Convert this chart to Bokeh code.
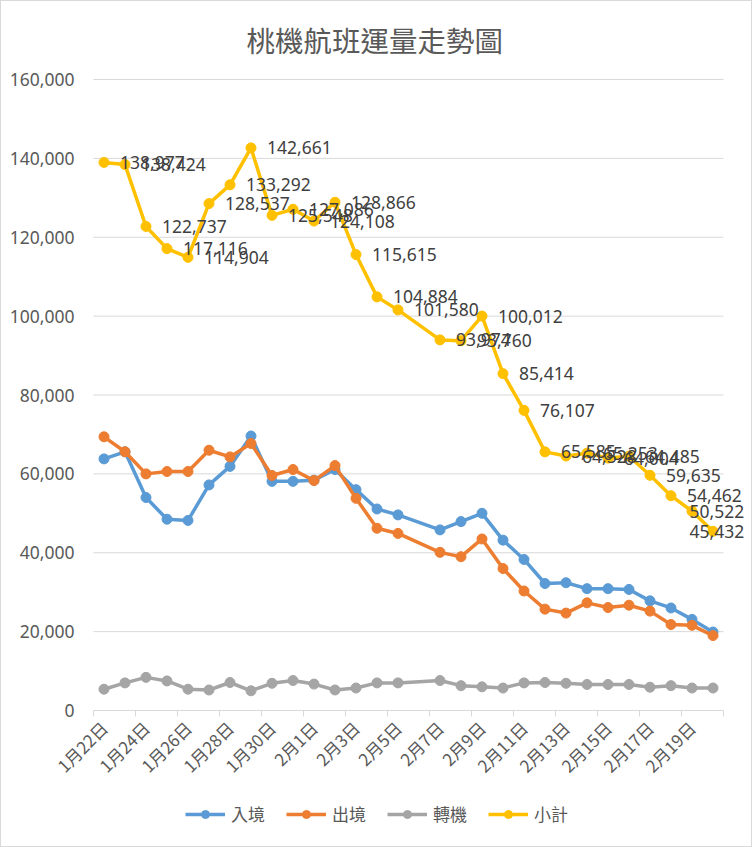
import math
from bokeh.plotting import figure
from bokeh.models import (ColumnDataSource, FixedTicker, Legend, LegendItem,
                          NumeralTickFormatter)
from bokeh.core.properties import value
from bokeh.embed import file_html
from bokeh.resources import INLINE

dates = ["1月22日", "1月23日", "1月24日", "1月25日", "1月26日", "1月27日",
         "1月28日", "1月29日", "1月30日", "1月31日", "2月1日", "2月2日",
         "2月3日", "2月4日", "2月5日", "2月6日", "2月7日", "2月8日", "2月9日",
         "2月10日", "2月11日", "2月12日", "2月13日", "2月14日", "2月15日",
         "2月16日", "2月17日", "2月18日", "2月19日", "2月20日"]

# 入境
arrivals = [63800, 65600, 54000, 48500, 48200, 57200, 61900, 69600, 58100,
            58100, 58400, 61100, 56000, 51100, 49600, None, 45800, 47900,
            50000, 43200, 38300, 32200, 32400, 30900, 30900, 30700, 27800,
            26000, 23100, 19900]
# 出境
departures = [69400, 65600, 60000, 60600, 60600, 66000, 64300, 67700, 59600,
              61100, 58300, 62100, 53800, 46200, 44900, None, 40100, 39000,
              43500, 36000, 30300, 25700, 24700, 27300, 26100, 26700, 25200,
              21800, 21600, 19000]
# 轉機
transfers = [5400, 7000, 8400, 7500, 5400, 5200, 7100, 5000, 6900, 7600,
             6700, 5200, 5700, 7000, 7000, None, 7600, 6300, 6000, 5700,
             7000, 7100, 6900, 6600, 6600, 6600, 5900, 6300, 5700, 5700]
# 小計
totals = [138977, 138424, 122737, 117116, 114904, 128537, 133292, 142661,
          125548, 127086, 124108, 128866, 115615, 104884, 101580, None,
          93974, 93760, 100012, 85414, 76107, 65585, 64528, 65253, 64004,
          64485, 59635, 54462, 50522, 45432]

series_names = ["入境", "出境", "轉機", "小計"]
series_values = [arrivals, departures, transfers, totals]
colors = ["#5B9BD5", "#ED7D31", "#A5A5A5", "#FFC000"]

W, H = 750, 845
AX_L, AX_R = 92, 722           # screen x of the category span
FT = 58                        # frame top (title sits above)
TOP_Y, AXIS_Y = 78, 709        # screen y of the top grid line and zero line
YMAX = 160000
n = len(dates)
ppu = (AX_R - AX_L) / n        # px per category
ppv = (AXIS_Y - TOP_Y) / YMAX  # px per unit of value
x_start = -0.5 - AX_L / ppu    # frame extends to canvas left edge
x_end = -0.5 + (W - AX_L) / ppu  # ... and to the right edge
y_start = -(H - AXIS_Y) / ppv    # ... and to the bottom
y_end = YMAX + (TOP_Y - FT) / ppv

p = figure(frame_width=W, frame_height=H - FT,
           output_backend="svg", toolbar_location=None,
           x_range=(x_start, x_end), y_range=(y_start, y_end),
           min_border_left=0, min_border_right=0, min_border_top=FT,
           min_border_bottom=0)
p.styles = {"border": "1px solid #d9d9d9"}
p.outline_line_color = None
p.background_fill_color = "white"
p.border_fill_color = "white"

p.title.text = "桃機航班運量走勢圖"
p.title.text_font = "Noto Sans CJK TC"
p.title.text_font_size = "28.5px"
p.title.text_font_style = "normal"
p.title.text_color = "#595959"
p.title.align = "left"
p.title.offset = 245
p.title.standoff = 0

# grid lines (and zero line) drawn only across the category span
yticks = list(range(0, YMAX + 1, 20000))
p.segment(x0=[-0.5] * len(yticks), x1=[n - 0.5] * len(yticks), y0=yticks,
          y1=yticks, line_color="#d9d9d9", line_width=1)

legend_items = []
for name, vals, col in zip(series_names, series_values, colors):
    xs = [i for i, v in enumerate(vals) if v is not None]
    ys = [v for v in vals if v is not None]
    src = ColumnDataSource(dict(x=xs, y=ys))
    r1 = p.line("x", "y", source=src, line_color=col, line_width=3.5)
    r2 = p.scatter("x", "y", source=src, size=10, fill_color=col,
                   line_color=col)
    legend_items.append(LegendItem(label=name, renderers=[r1, r2]))
    if name == "小計":
        labs = [f"{v:,}" for v in ys]
        offs = []
        for xi, lab in zip(xs, labs):
            px = AX_L + (xi + 0.5) * ppu
            w = len(lab) * 9.0
            start = min(px + 16, W - 8 - w)
            offs.append(start - px)
        src.data["lab"] = labs
        src.data["off"] = offs
        p.text("x", "y", text="lab", source=src, x_offset="off",
               text_baseline="middle", text_align="left",
               text_font=value("Noto Sans"), text_font_size="17.5px",
               text_color="#404040")

# x axis, placed at y = 0 inside the frame
xt = FixedTicker(ticks=list(range(0, n, 2)),
                 minor_ticks=[i - 0.5 for i in range(0, n + 1, 2)])
p.xaxis.fixed_location = 0
p.xaxis.ticker = xt
p.xaxis.major_label_overrides = {i: d for i, d in enumerate(dates)}
p.xaxis.major_label_orientation = math.pi / 4
p.xaxis.major_label_text_font = "Noto Sans CJK TC"
p.xaxis.major_label_text_font_size = "17px"
p.xaxis.major_label_text_color = "#595959"
p.xaxis.major_label_standoff = 8
p.xaxis.axis_line_color = None
p.xaxis.major_tick_line_color = None
p.xaxis.minor_tick_line_color = "#d9d9d9"
p.xaxis.minor_tick_out = 6
p.xaxis.minor_tick_in = 0
p.xgrid.grid_line_color = None

# y axis, placed at the left end of the category span
p.yaxis.fixed_location = -0.5
p.yaxis.ticker = FixedTicker(ticks=yticks)
p.yaxis.formatter = NumeralTickFormatter(format="0,0")
p.yaxis.axis_line_color = None
p.yaxis.major_tick_line_color = None
p.yaxis.minor_tick_line_color = None
p.yaxis.major_label_text_font = "Noto Sans"
p.yaxis.major_label_text_font_size = "17.5px"
p.yaxis.major_label_text_color = "#595959"
p.yaxis.major_label_standoff = 13
p.ygrid.grid_line_color = None

legend = Legend(items=legend_items, orientation="horizontal",
                location=(AX_L + 92, 20), padding=0, margin=0, spacing=21,
                glyph_width=40, glyph_height=20, label_standoff=6,
                label_text_font="Noto Sans CJK TC",
                label_text_font_size="17px", label_text_color="#595959",
                border_line_color=None, background_fill_alpha=0)
p.add_layout(legend, "center")

open("out.html", "w").write(file_html(p, INLINE))
